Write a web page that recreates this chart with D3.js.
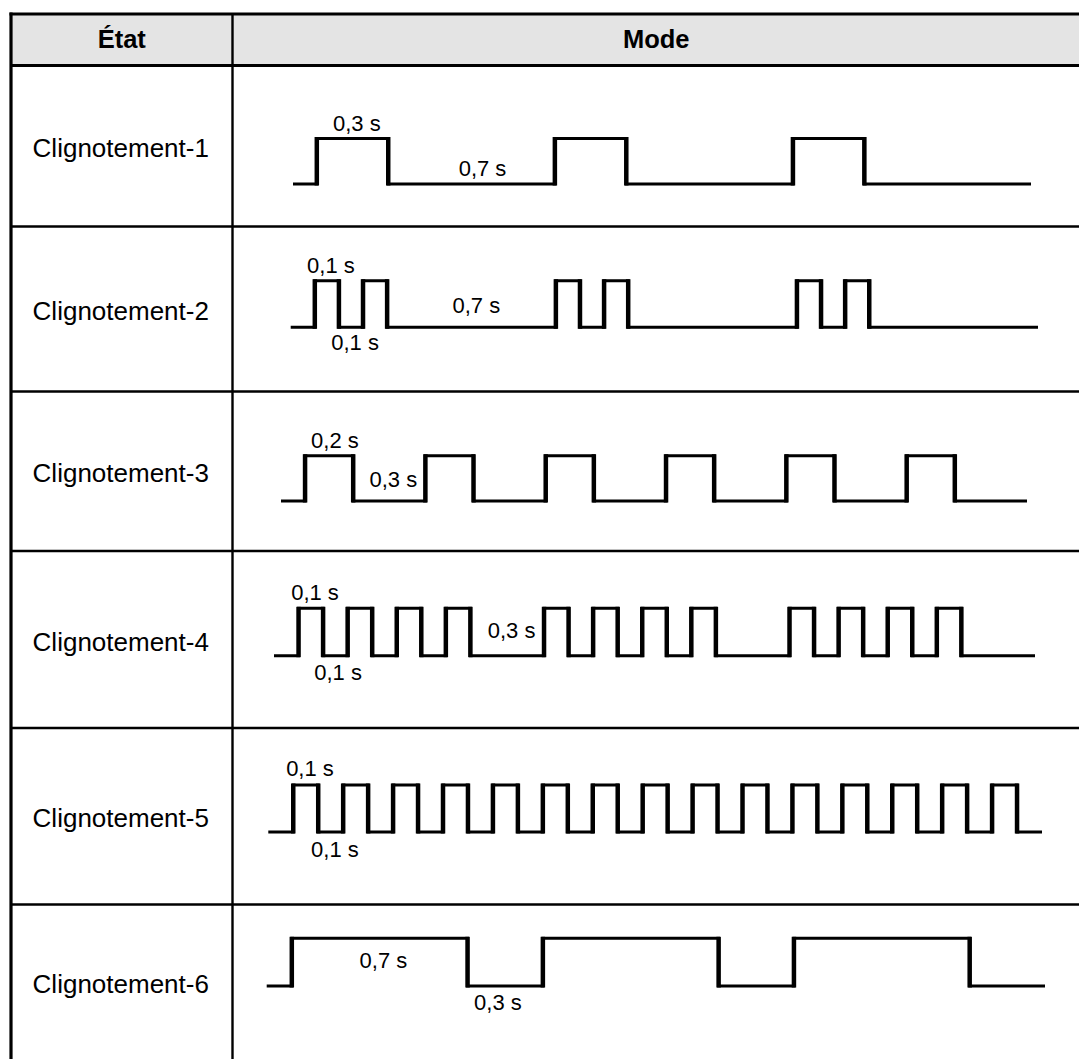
<!DOCTYPE html>
<html><head><meta charset="utf-8">
<script src="https://cdn.jsdelivr.net/npm/d3@7"></script>
<style>body{margin:0;background:#fff} svg{display:block}</style>
</head><body>
<svg id="c" width="1079" height="1059"></svg>
<script>
// ---- DATA ----
const headers = ["État", "Mode"];
const categories = ["Clignotement-1", "Clignotement-2", "Clignotement-3", "Clignotement-4", "Clignotement-5", "Clignotement-6"];
// segment durations in seconds, alternating low / high, starting low
const durations1 = [0.1, 0.3, 0.7, 0.3, 0.7, 0.3, 0.7];
const durations2 = [0.1, 0.1, 0.1, 0.1, 0.7, 0.1, 0.1, 0.1, 0.7, 0.1, 0.1, 0.1, 0.7];
const durations3 = [0.1, 0.2, 0.3, 0.2, 0.3, 0.2, 0.3, 0.2, 0.3, 0.2, 0.3, 0.2, 0.3];
const durations4 = [0.1, 0.1, 0.1, 0.1, 0.1, 0.1, 0.1, 0.1, 0.3, 0.1, 0.1, 0.1, 0.1, 0.1, 0.1, 0.1, 0.3, 0.1, 0.1, 0.1, 0.1, 0.1, 0.1, 0.1, 0.3];
const durations5 = [0.1, 0.1, 0.1, 0.1, 0.1, 0.1, 0.1, 0.1, 0.1, 0.1, 0.1, 0.1, 0.1, 0.1, 0.1, 0.1, 0.1, 0.1, 0.1, 0.1, 0.1, 0.1, 0.1, 0.1, 0.1, 0.1, 0.1, 0.1, 0.1, 0.1, 0.1];
const durations6 = [0.1, 0.7, 0.3, 0.7, 0.3, 0.7, 0.3];
// annotations: text, time of label centre (s), reference level
const labels1 = [{text: "0,3 s", t: 0.268, ref: "high"}, {text: "0,7 s", t: 0.796, ref: "low"}];
const labels2 = [{text: "0,1 s", t: 0.167, ref: "high"}, {text: "0,7 s", t: 0.770, ref: "low"}, {text: "0,1 s", t: 0.267, ref: "below"}];
const labels3 = [{text: "0,2 s", t: 0.224, ref: "high"}, {text: "0,3 s", t: 0.467, ref: "low"}];
const labels4 = [{text: "0,1 s", t: 0.167, ref: "high"}, {text: "0,3 s", t: 0.968, ref: "low"}, {text: "0,1 s", t: 0.261, ref: "below"}];
const labels5 = [{text: "0,1 s", t: 0.167, ref: "high"}, {text: "0,1 s", t: 0.267, ref: "below"}];
const labels6 = [{text: "0,7 s", t: 0.465, ref: "inside"}, {text: "0,3 s", t: 0.921, ref: "below"}];

const waveData = [durations1, durations2, durations3, durations4, durations5, durations6];
const labelData = [labels1, labels2, labels3, labels4, labels5, labels6];

// ---- LAYOUT ----
const W = 1079, H = 1059;
const tableLeft = 11, tableRight = 1080, colDiv = 232.5, tableTop = 14;
const rowLines = [65.5, 226.5, 391.5, 551, 728, 904.5, 1059];
const waveLayout = [
  {x0: 293, x1: 1031, yHigh: 138.5, yLow: 184, dy: {high: -8, low: -8, below: 23, inside: 30}},
  {x0: 290.7, x1: 1038, yHigh: 280.7, yLow: 327.3, dy: {high: -8, low: -14.6, below: 23, inside: 30}},
  {x0: 281, x1: 1027, yHigh: 455.7, yLow: 501, dy: {high: -7.5, low: -14.3, below: 23, inside: 30}},
  {x0: 274, x1: 1035, yHigh: 608.3, yLow: 655.7, dy: {high: -8.3, low: -17.4, below: 24, inside: 30}},
  {x0: 268.3, x1: 1042, yHigh: 785, yLow: 832, dy: {high: -9, low: -14, below: 24.7, inside: 30}},
  {x0: 266.7, x1: 1045, yHigh: 938.3, yLow: 986, dy: {high: -8, low: -14, below: 24, inside: 30}}
];
const font = "'Liberation Sans', Arial, Helvetica, sans-serif";

const svg = d3.select("#c");

// header background
svg.append("rect").attr("x", tableLeft).attr("y", tableTop).attr("width", tableRight - tableLeft).attr("height", rowLines[0] - tableTop).attr("fill", "#e4e4e4");

// header texts
const headerX = [(tableLeft + colDiv) / 2, (colDiv + W) / 2 + 0.5];
svg.selectAll("text.hdr").data(headers).join("text").attr("class", "hdr")
  .attr("x", (d, i) => headerX[i]).attr("y", 48.3)
  .attr("text-anchor", "middle").attr("font-family", font).attr("font-weight", "bold").attr("font-size", 25.5)
  .attr("fill", "#000").text(d => d);

// table lines
svg.append("line").attr("x1", tableLeft - 1.5).attr("x2", tableRight).attr("y1", tableTop).attr("y2", tableTop).attr("stroke", "#000").attr("stroke-width", 3);
svg.append("line").attr("x1", tableLeft).attr("x2", tableRight).attr("y1", rowLines[0]).attr("y2", rowLines[0]).attr("stroke", "#000").attr("stroke-width", 3);
svg.selectAll("line.row").data(rowLines.slice(1, 6)).join("line").attr("class", "row")
  .attr("x1", tableLeft).attr("x2", tableRight).attr("y1", d => d).attr("y2", d => d)
  .attr("stroke", "#000").attr("stroke-width", 2.5);
svg.append("line").attr("x1", tableLeft).attr("x2", tableLeft).attr("y1", tableTop - 1.5).attr("y2", H).attr("stroke", "#000").attr("stroke-width", 3.2);
svg.append("line").attr("x1", colDiv).attr("x2", colDiv).attr("y1", tableTop).attr("y2", H).attr("stroke", "#000").attr("stroke-width", 2.4);

// row labels
svg.selectAll("text.cat").data(categories).join("text").attr("class", "cat")
  .attr("x", (tableLeft + colDiv) / 2 - 1)
  .attr("y", (d, i) => (rowLines[i] + rowLines[i + 1]) / 2 + 11)
  .attr("text-anchor", "middle").attr("font-family", font).attr("font-size", 26)
  .attr("fill", "#000").text(d => d);

// waveforms
waveData.forEach((durs, r) => {
  const L = waveLayout[r];
  const total = d3.sum(durs);
  const x = d3.scaleLinear().domain([0, total]).range([L.x0, L.x1]);
  const y = d3.scaleLinear().domain([0, 1]).range([L.yLow, L.yHigh]);
  const pts = [];
  let t = 0;
  durs.forEach((d, i) => { pts.push({t: t, v: i % 2}); t += d; });
  pts.push({t: t, v: (durs.length - 1) % 2});
  const g = svg.append("g");
  const line = d3.line().x(d => x(d.t)).y(d => y(d.v)).curve(d3.curveStepAfter);
  g.append("path").attr("d", line(pts)).attr("fill", "none").attr("stroke", "#000").attr("stroke-width", 3).attr("stroke-linejoin", "miter");
  // thicker vertical edges
  g.selectAll("line.edge").data(pts.slice(1, -1)).join("line").attr("class", "edge")
    .attr("x1", d => x(d.t)).attr("x2", d => x(d.t))
    .attr("y1", y(1) - 1.5).attr("y2", y(0) + 1.5)
    .attr("stroke", "#000").attr("stroke-width", 4.5);
  // annotations
  g.selectAll("text.ann").data(labelData[r]).join("text").attr("class", "ann")
    .attr("x", d => x(d.t))
    .attr("y", d => (d.ref === "high" || d.ref === "inside" ? y(1) : y(0)) + L.dy[d.ref])
    .attr("text-anchor", "middle").attr("font-family", font).attr("font-size", 22)
    .attr("fill", "#000").text(d => d.text);
});
</script>
</body></html>
